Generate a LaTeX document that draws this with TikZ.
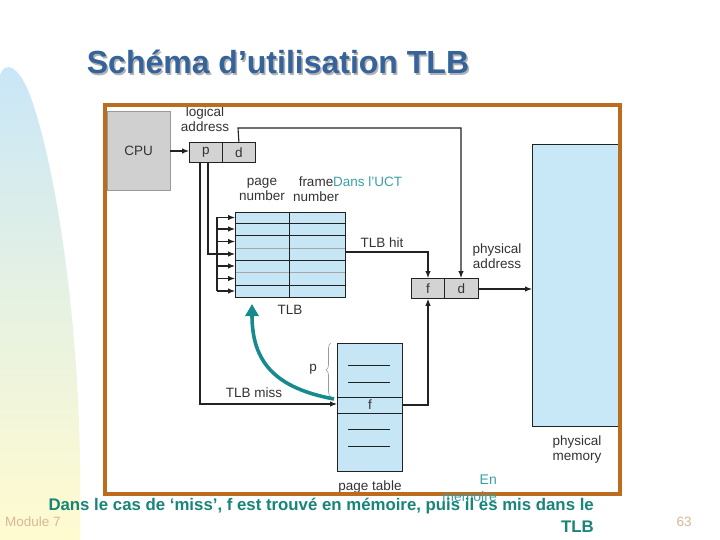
\documentclass[tikz,border=0pt]{standalone}
\usepackage{fontspec}
\setmainfont{Liberation Sans}
\usetikzlibrary{arrows.meta,decorations.pathreplacing}
\definecolor{txt}{HTML}{333333}
\definecolor{linec}{HTML}{222222}
\definecolor{frameor}{HTML}{BC6C1E}
\definecolor{cpugray}{HTML}{D0D0D0}
\definecolor{regray}{HTML}{D3D3D3}
\definecolor{tlbblue}{HTML}{C6E6F6}
\definecolor{memblue}{HTML}{C8E8F8}
\definecolor{teal}{HTML}{168A8C}
\definecolor{tealtxt}{HTML}{3AA0A8}
\definecolor{bottxt}{HTML}{178577}
\definecolor{titleblue}{HTML}{35639A}
\definecolor{tan}{HTML}{D9B894}
\definecolor{bgblue}{HTML}{C8E6F8}
\definecolor{bgyellow}{HTML}{FFFBD0}
\tikzset{
  lbl/.style={font=\fontsize{13.5}{15}\selectfont, text=txt, inner sep=0pt, align=center},
  reg/.style={draw=linec, fill=regray, line width=0.8pt, inner sep=0pt},
  conn/.style={draw=linec, line width=1.1pt},
  arr/.style={conn, -{Latex[length=7pt,width=5.5pt]}},
}
\begin{document}
\begin{tikzpicture}[x=1pt,y=-1pt]
\useasboundingbox (0,0) rectangle (720,540);
\fill[white] (0,0) rectangle (720,540);
% background gradient band
\shade[top color=bgblue, bottom color=bgyellow, middle color=bgblue!45!bgyellow]
  (0,540) -- (0,75) .. controls (4,62) and (20,60) .. (35,110)
  .. controls (60,190) and (78,330) .. (80,460) -- (80,540) -- cycle;
% title
\node[font=\fontsize{32}{36}\selectfont\bfseries, text=gray!60, inner sep=0pt] at (279.5,63.5) {Schéma d’utilisation TLB};
\node[font=\fontsize{32}{36}\selectfont\bfseries, text=titleblue, inner sep=0pt] (title) at (278,62) {Schéma d’utilisation TLB};
% physical memory
\path[fill=memblue, draw=linec, line width=0.8pt] (618,144) -- (532,144) -- (532,426) -- (618,426);
\coordinate (memleft) at (532,289);
% CPU
\node[draw=gray!80, fill=cpugray, minimum width=63pt, minimum height=79pt, inner sep=0pt, lbl, anchor=north west] (cpu) at (107,111) {CPU};
% logical address register
\node[reg, minimum width=33pt, minimum height=20pt, anchor=north west, lbl] (p) at (189,142) {p};
\node[reg, minimum width=33pt, minimum height=20pt, anchor=north west, lbl] (d) at (222,142) {d};
\node[lbl] (logical) at (205,119.5) {logical\\address};
% physical address register
\node[reg, minimum width=33pt, minimum height=20pt, anchor=north west, lbl] (f2) at (411,278) {f};
\node[reg, minimum width=34pt, minimum height=20pt, anchor=north west, lbl] (d2) at (444,278) {d};
\node[lbl] (physaddr) at (497,256) {physical\\address};
% TLB
\path[fill=tlbblue] (235,212) rectangle (345,297);
\foreach \yy/\cc in {223/linec,235/linec,248/gray!70,260/linec,272/gray!70,285/linec}
  \draw[\cc, line width=0.8pt] (235,\yy) -- (345,\yy);
\draw[linec, line width=0.9pt] (235,212) rectangle (345,297);
\draw[linec, line width=0.9pt] (289,212) -- (289,297);
\node[lbl] (pagenum) at (262,189.5) {page\\number};
\node[lbl] (framenum) at (316,189.5) {frame\\number};
\node[font=\fontsize{13.5}{15}\selectfont, text=tealtxt, inner sep=0pt, anchor=west] (uct) at (333,182) {Dans l’UCT};
\node[lbl] (tlblbl) at (290,310) {TLB};
\node[lbl] (tlbhit) at (382,243) {TLB hit};
\coordinate (tlbhitout) at (345,252);
% page table
\path[fill=tlbblue] (337,343) rectangle (402,471);
\draw[linec, line width=0.8pt] (337,343) rectangle (402,471);
\draw[linec, line width=0.8pt] (337,397) -- (402,397) (337,413) -- (402,413);
\foreach \yy in {365,382,429,446}
  \draw[linec, line width=1pt] (348,\yy) -- (390,\yy);
\node[lbl] (fpt) at (370,405) {f};
\coordinate (ptin) at (337,404);
\coordinate (ptout) at (402,405);
\node[lbl] (ptlbl) at (370,487) {page table};
\draw[gray!80, line width=0.6pt, decorate, decoration={brace, amplitude=5pt}] (331,397) -- (331,343);
\node[lbl] (plbl) at (313,369) {p};
\node[lbl] (tlbmiss) at (254,393) {TLB miss};
\node[lbl] (physmem) at (577,449.5) {physical\\memory};
% connectors
\draw[arr] (cpu.east |- 0,151) -- (p.west |- 0,151);
\draw[arr] (d.north) -- (238,128) -- (461,128) -- (d2.north -| 461,0);
\draw[arr] (d2.east |- 0,289) -- (memleft);
\draw[arr] (tlbhitout) -- (428,252) -- (f2.north -| 428,0);
\draw[arr] (ptout) -- (428,405) -- (f2.south -| 428,0);
\draw[arr] (p.south -| 200,0) -- (200,404) -- (ptin);
\draw[conn] (p.south -| 208,0) -- (208,254) -- (217,254);
\draw[conn] (217,217.5) -- (217,291);
\foreach \yy in {217.5,229,241.5,254,266,278.5,291}
  \draw[arr] (217,\yy) -- (235,\yy);
% teal miss arrow
\draw[teal, line width=3.6pt, -{Triangle[length=12pt,width=13pt]}] (334,399) .. controls (275,388) and (252,362) .. (252,304);
% orange frame
\draw[frameor, line width=4pt] (105,105.5) rectangle (620,494);
% bottom texts
\node[font=\fontsize{14}{17}\selectfont, text=tealtxt, inner sep=0pt, align=right, anchor=north east] (enmem) at (497,475) {En\\memoire};
\node[font=\fontsize{16.8}{22}\selectfont\bfseries, text=bottxt, inner sep=0pt, align=right, anchor=north east] (bottom) at (594,498) {Dans le cas de ‘miss’, f est trouvé en mémoire, puis il es mis dans le\\TLB};
\node[font=\fontsize{13.5}{15}\selectfont, text=tan, inner sep=0pt] (module) at (33,522) {Module 7};
\node[font=\fontsize{13.5}{15}\selectfont, text=tan, inner sep=0pt] (pagenr) at (684,522) {63};
\end{tikzpicture}
\end{document}
